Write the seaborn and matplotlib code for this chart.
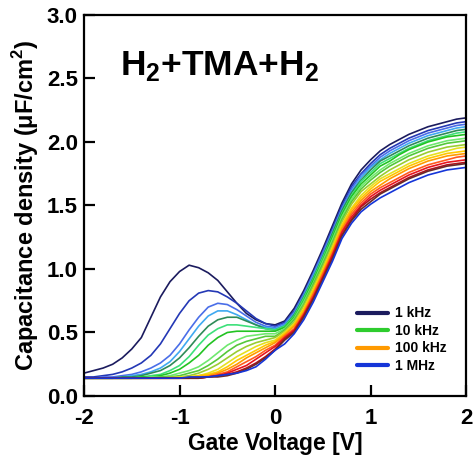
"""C-V curves vs. frequency for the H2+TMA+H2 sample (seaborn ``ticks`` style)."""

import matplotlib as mpl
import matplotlib.pyplot as plt
import pandas as pd
import seaborn as sns
from matplotlib.lines import Line2D

sns.set_theme(style="ticks")
mpl.rcParams.update(
    {
        "font.family": ["Liberation Sans", "DejaVu Sans"],
        "font.weight": "bold",
        "axes.labelweight": "bold",
        "axes.unicode_minus": False,
        "mathtext.fontset": "custom",
        "mathtext.rm": "Liberation Sans:bold",
        "mathtext.bf": "Liberation Sans:bold",
        "axes.linewidth": 1.6,
        "axes.edgecolor": "black",
        "text.color": "black",
        "axes.labelcolor": "black",
        "xtick.color": "black",
        "ytick.color": "black",
    }
)

# Gate voltage grid (V)
VOLTAGE = [-2.0, -1.9, -1.8, -1.7, -1.6, -1.5, -1.4, -1.3, -1.2, -1.1, -1.0, -0.9, -0.8, -0.7,
           -0.6, -0.5, -0.4, -0.3, -0.2, -0.1, 0.0, 0.1, 0.2, 0.3, 0.4, 0.5, 0.6, 0.7,
           0.8, 0.9, 1.0, 1.1, 1.2, 1.3, 1.4, 1.5, 1.6, 1.7, 1.8, 1.9, 2.0]

# capacitance density (uF/cm^2), one list per measurement frequency
C_1K = [0.18, 0.20, 0.22, 0.25, 0.30, 0.37, 0.46,
        0.62, 0.78, 0.90, 0.98, 1.03, 1.01, 0.97, 0.91, 0.82, 0.73, 0.65, 0.60, 0.57, 0.56, 0.59,
        0.69, 0.83, 0.99, 1.16, 1.34, 1.52, 1.67, 1.78, 1.86, 1.93, 1.98,
        2.02, 2.06, 2.09, 2.12, 2.14, 2.16, 2.18, 2.19]
C_2K = [0.15, 0.15, 0.16, 0.17, 0.19, 0.22, 0.26,
        0.32, 0.41, 0.53, 0.65, 0.75, 0.81, 0.83, 0.82, 0.78, 0.73, 0.67, 0.61, 0.57, 0.55, 0.58,
        0.67, 0.81, 0.97, 1.14, 1.32, 1.50, 1.65, 1.75, 1.83, 1.90, 1.95,
        1.99, 2.03, 2.06, 2.09, 2.11, 2.13, 2.15, 2.16]
C_3K = [0.14, 0.14, 0.15, 0.15, 0.16, 0.17, 0.19,
        0.22, 0.26, 0.32, 0.41, 0.52, 0.62, 0.70, 0.73, 0.72, 0.68, 0.63, 0.58, 0.55, 0.54, 0.57,
        0.66, 0.80, 0.96, 1.13, 1.30, 1.48, 1.63, 1.74, 1.81, 1.88, 1.93,
        1.97, 2.01, 2.04, 2.07, 2.09, 2.11, 2.13, 2.14]
C_4K = [0.14, 0.14, 0.14, 0.14, 0.15, 0.16, 0.17,
        0.19, 0.22, 0.27, 0.35, 0.45, 0.55, 0.63, 0.67, 0.67, 0.64, 0.60, 0.56, 0.54, 0.53, 0.56,
        0.65, 0.79, 0.95, 1.11, 1.29, 1.47, 1.61, 1.72, 1.80, 1.86, 1.91,
        1.95, 1.99, 2.02, 2.05, 2.07, 2.09, 2.11, 2.12]
C_5K = [0.14, 0.14, 0.14, 0.14, 0.15, 0.15, 0.16,
        0.18, 0.20, 0.24, 0.30, 0.38, 0.47, 0.55, 0.60, 0.62, 0.62, 0.59, 0.56, 0.53, 0.52, 0.55,
        0.64, 0.78, 0.93, 1.10, 1.28, 1.46, 1.60, 1.70, 1.78, 1.85, 1.89,
        1.93, 1.97, 2.00, 2.03, 2.05, 2.07, 2.09, 2.10]
C_7K = [0.14, 0.14, 0.14, 0.14, 0.14, 0.14, 0.15,
        0.16, 0.17, 0.20, 0.24, 0.31, 0.40, 0.48, 0.53, 0.56, 0.56, 0.55, 0.54, 0.53, 0.52, 0.55,
        0.63, 0.77, 0.92, 1.09, 1.26, 1.44, 1.58, 1.69, 1.76, 1.83, 1.87,
        1.91, 1.95, 1.98, 2.01, 2.03, 2.05, 2.07, 2.08]
C_10K = [0.14, 0.14, 0.14, 0.14, 0.14, 0.14, 0.15,
         0.15, 0.16, 0.18, 0.21, 0.26, 0.32, 0.40, 0.46, 0.50, 0.51, 0.51, 0.51, 0.51, 0.51, 0.54,
         0.62, 0.75, 0.91, 1.07, 1.25, 1.43, 1.57, 1.67, 1.74, 1.81, 1.85,
         1.90, 1.94, 1.97, 2.00, 2.02, 2.04, 2.05, 2.06]
C_15K = [0.14, 0.14, 0.14, 0.14, 0.14, 0.14, 0.14,
         0.15, 0.15, 0.16, 0.18, 0.20, 0.23, 0.28, 0.34, 0.40, 0.44, 0.47, 0.48, 0.49, 0.49, 0.53,
         0.61, 0.74, 0.89, 1.06, 1.23, 1.41, 1.55, 1.65, 1.72, 1.78, 1.83,
         1.87, 1.91, 1.94, 1.97, 1.99, 2.01, 2.02, 2.03]
C_20K = [0.14, 0.14, 0.14, 0.14, 0.14, 0.14, 0.14,
         0.14, 0.15, 0.15, 0.16, 0.18, 0.20, 0.24, 0.29, 0.35, 0.40, 0.43, 0.45, 0.47, 0.47, 0.52,
         0.60, 0.72, 0.88, 1.04, 1.21, 1.39, 1.53, 1.63, 1.70, 1.76, 1.81,
         1.85, 1.89, 1.92, 1.95, 1.97, 1.99, 2.00, 2.01]
C_30K = [0.14, 0.14, 0.14, 0.14, 0.14, 0.14, 0.14,
         0.14, 0.14, 0.15, 0.15, 0.16, 0.18, 0.21, 0.25, 0.30, 0.35, 0.39, 0.42, 0.44, 0.46, 0.51,
         0.58, 0.71, 0.86, 1.02, 1.19, 1.37, 1.51, 1.61, 1.67, 1.73, 1.78,
         1.82, 1.86, 1.89, 1.92, 1.94, 1.96, 1.97, 1.98]
C_50K = [0.14, 0.14, 0.14, 0.14, 0.14, 0.14, 0.14,
         0.14, 0.14, 0.14, 0.15, 0.15, 0.16, 0.18, 0.21, 0.26, 0.31, 0.35, 0.39, 0.42, 0.44, 0.50,
         0.57, 0.69, 0.84, 1.00, 1.17, 1.35, 1.48, 1.58, 1.65, 1.71, 1.75,
         1.79, 1.83, 1.86, 1.89, 1.91, 1.93, 1.95, 1.96]
C_70K = [0.14, 0.14, 0.14, 0.14, 0.14, 0.14, 0.14,
         0.14, 0.14, 0.14, 0.14, 0.15, 0.16, 0.17, 0.19, 0.23, 0.28, 0.32, 0.36, 0.40, 0.43, 0.49,
         0.56, 0.68, 0.83, 0.99, 1.16, 1.34, 1.47, 1.56, 1.63, 1.69, 1.73,
         1.77, 1.81, 1.84, 1.87, 1.89, 1.91, 1.92, 1.93]
C_100K = [0.14, 0.14, 0.14, 0.14, 0.14, 0.14, 0.14,
          0.14, 0.14, 0.14, 0.14, 0.14, 0.15, 0.16, 0.18, 0.21, 0.25, 0.30, 0.34, 0.38, 0.42, 0.48,
          0.55, 0.66, 0.81, 0.97, 1.14, 1.32, 1.45, 1.54, 1.61, 1.66, 1.71,
          1.75, 1.79, 1.82, 1.85, 1.87, 1.89, 1.90, 1.91]
C_200K = [0.14, 0.14, 0.14, 0.14, 0.14, 0.14, 0.14,
          0.14, 0.14, 0.14, 0.14, 0.14, 0.15, 0.15, 0.17, 0.19, 0.23, 0.27, 0.31, 0.36, 0.40, 0.47,
          0.53, 0.65, 0.80, 0.96, 1.12, 1.30, 1.43, 1.52, 1.59, 1.64, 1.68,
          1.72, 1.76, 1.79, 1.82, 1.84, 1.86, 1.88, 1.89]
C_300K = [0.14, 0.14, 0.14, 0.14, 0.14, 0.14, 0.14,
          0.14, 0.14, 0.14, 0.14, 0.14, 0.14, 0.15, 0.16, 0.18, 0.21, 0.24, 0.29, 0.34, 0.39, 0.46,
          0.52, 0.64, 0.78, 0.94, 1.11, 1.29, 1.41, 1.50, 1.57, 1.62, 1.66,
          1.70, 1.74, 1.77, 1.80, 1.82, 1.84, 1.85, 1.86]
C_500K = [0.14, 0.14, 0.14, 0.14, 0.14, 0.14, 0.14,
          0.14, 0.14, 0.14, 0.14, 0.14, 0.14, 0.15, 0.16, 0.17, 0.19, 0.22, 0.26, 0.31, 0.37, 0.45,
          0.51, 0.63, 0.77, 0.93, 1.09, 1.27, 1.39, 1.49, 1.55, 1.60, 1.64,
          1.68, 1.72, 1.75, 1.78, 1.80, 1.82, 1.83, 1.84]
C_700K = [0.14, 0.14, 0.14, 0.14, 0.14, 0.14, 0.14,
          0.14, 0.14, 0.14, 0.14, 0.14, 0.14, 0.15, 0.15, 0.16, 0.18, 0.21, 0.25, 0.30, 0.36, 0.44,
          0.50, 0.62, 0.76, 0.92, 1.08, 1.26, 1.38, 1.47, 1.53, 1.59, 1.63,
          1.67, 1.71, 1.74, 1.77, 1.79, 1.81, 1.82, 1.83]
C_1M = [0.14, 0.14, 0.14, 0.14, 0.14, 0.14, 0.14,
        0.14, 0.14, 0.14, 0.14, 0.15, 0.15, 0.15, 0.16, 0.17, 0.18, 0.20, 0.23, 0.29, 0.36, 0.41,
        0.49, 0.60, 0.74, 0.90, 1.06, 1.24, 1.36, 1.45, 1.51, 1.56, 1.60,
        1.64, 1.68, 1.71, 1.74, 1.76, 1.78, 1.79, 1.80]

FREQS = ["1 kHz", "2 kHz", "3 kHz", "4 kHz", "5 kHz", "7 kHz", "10 kHz", "15 kHz", "20 kHz",
         "30 kHz", "50 kHz", "70 kHz", "100 kHz", "200 kHz", "300 kHz", "500 kHz", "700 kHz", "1 MHz"]
CURVES = [C_1K, C_2K, C_3K, C_4K, C_5K, C_7K, C_10K, C_15K, C_20K,
          C_30K, C_50K, C_70K, C_100K, C_200K, C_300K, C_500K, C_700K, C_1M]
COLORS = ["#1b1b5e", "#2438b5", "#4a6ee8", "#3fa9f0", "#2e8b57", "#3de07a", "#22c322", "#6fe86f", "#55c83a",
          "#9acd32", "#e6e020", "#ffc800", "#ff9a00", "#ff5a1e", "#e8141e", "#b0101a", "#6a2a2a", "#1535d8"]
LEGEND_FREQS = ["1 kHz", "10 kHz", "100 kHz", "1 MHz"]
LEGEND_COLORS = ["#1b1b5e", "#2ecc2e", "#ff9a00", "#1535d8"]


def main():
    df = pd.concat(
        [pd.DataFrame({"V": VOLTAGE, "C": c, "freq": f}) for f, c in zip(FREQS, CURVES)],
        ignore_index=True,
    )

    fig = plt.figure(figsize=(4.73, 4.57), dpi=100)
    ax = fig.add_axes([0.1776, 0.1335, 0.808, 0.8337])

    sns.lineplot(
        data=df,
        x="V",
        y="C",
        hue="freq",
        hue_order=FREQS,
        palette=dict(zip(FREQS, COLORS)),
        estimator=None,
        sort=False,
        linewidth=1.2,
        legend=False,
        ax=ax,
    )

    ax.set_xlim(-2, 2)
    ax.set_ylim(0, 3.0)
    ax.set_xticks([-2, -1, 0, 1, 2])
    ax.set_yticks([0.0, 0.5, 1.0, 1.5, 2.0, 2.5, 3.0])
    ax.set_yticklabels([f"{v:.1f}" for v in ax.get_yticks()])
    ax.tick_params(direction="in", length=8, width=1.6, labelsize=16, top=False, right=False)
    ax.tick_params(axis="x", pad=9)
    ax.tick_params(axis="y", pad=4.5)
    ax.set_xlabel("Gate Voltage [V]", fontsize=16.5, labelpad=1.5)
    ax.set_ylabel(r"Capacitance density (μF/cm$^\mathbf{2}$)", fontsize=17, labelpad=4)

    ax.text(0.094, 0.8425, r"H$_\mathbf{2}$+TMA+H$_\mathbf{2}$", transform=ax.transAxes,
            fontsize=25.5, fontweight="bold", va="baseline")

    handles = [Line2D([], [], color=c, lw=3) for c in LEGEND_COLORS]
    ax.legend(handles, LEGEND_FREQS, loc="upper left", bbox_to_anchor=(0.715, 0.235), frameon=False,
              fontsize=10, handlelength=2.2, handletextpad=0.5, labelspacing=0.25,
              borderpad=0, borderaxespad=0)

    fig.savefig("out.png", dpi=100)


if __name__ == "__main__":
    main()
